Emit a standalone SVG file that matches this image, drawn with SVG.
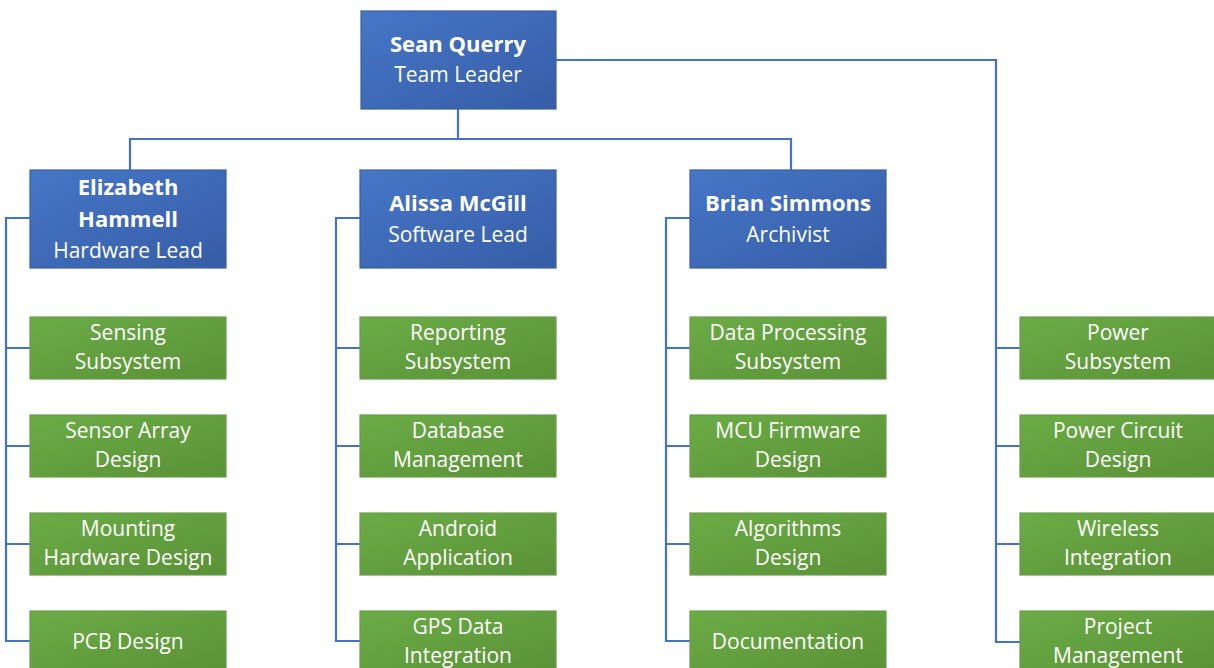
<svg xmlns="http://www.w3.org/2000/svg" width="1214" height="668" viewBox="0 0 1214 668">
<defs>
<linearGradient id="gb" x1="0" y1="0" x2="1" y2="1">
<stop offset="0" stop-color="#4676C8"/>
<stop offset="1" stop-color="#365DA6"/>
</linearGradient>
<linearGradient id="gg" x1="0" y1="0" x2="1" y2="1">
<stop offset="0" stop-color="#6BAC45"/>
<stop offset="1" stop-color="#5A9137"/>
</linearGradient>
<style>
.b{fill:url(#gb);stroke:#3C5F9E;stroke-width:1.2}
.g{fill:url(#gg);stroke:#6E9A52;stroke-width:1.2}
.t{font-family:"Open Sans","Liberation Sans",sans-serif;font-size:21px;fill:#ffffff;text-anchor:middle}
.h{font-weight:bold;font-size:22px}
.c{fill:none;stroke:#4472C4;stroke-width:2.2}
</style>
</defs>
<g id="connectors">
<path class="c" d="M458,109 V139 M130,170 V139 H791 V170"/>
<path class="c" d="M556,60 H996 V642 H1020 M996,348 H1020 M996,446 H1020 M996,544 H1020"/>
<path class="c" d="M30,218 H6 V641 H30 M6,348 H30 M6,446 H30 M6,544 H30"/>
<path class="c" d="M360,218 H336 V641 H360 M336,348 H360 M336,446 H360 M336,544 H360"/>
<path class="c" d="M690,218 H666 V641 H690 M666,348 H690 M666,446 H690 M666,544 H690"/>
</g>
<g id="sean"><rect class="b" x="361" y="11" width="195" height="98"/><text class="t h" x="458" y="52">Sean Querry</text><text class="t" x="458" y="82">Team Leader</text></g>
<g id="elizabeth"><rect class="b" x="30" y="170" width="196" height="98"/><text class="t h" x="128" y="195">Elizabeth</text><text class="t h" x="128" y="227">Hammell</text><text class="t" x="128" y="258">Hardware Lead</text></g>
<g id="alissa"><rect class="b" x="360" y="170" width="196" height="98"/><text class="t h" x="458" y="211">Alissa McGill</text><text class="t" x="458" y="242">Software Lead</text></g>
<g id="brian"><rect class="b" x="690" y="170" width="196" height="98"/><text class="t h" x="788" y="211">Brian Simmons</text><text class="t" x="788" y="242">Archivist</text></g>

<g id="sensing"><rect class="g" x="30" y="317" width="196" height="62"/><text class="t" x="128" y="340">Sensing</text><text class="t" x="128" y="369">Subsystem</text></g>
<g id="sensor-array"><rect class="g" x="30" y="415" width="196" height="62"/><text class="t" x="128" y="438">Sensor Array</text><text class="t" x="128" y="467">Design</text></g>
<g id="mounting"><rect class="g" x="30" y="513" width="196" height="62"/><text class="t" x="128" y="536">Mounting</text><text class="t" x="128" y="565">Hardware Design</text></g>
<g id="pcb"><rect class="g" x="30" y="611" width="196" height="62"/><text class="t" x="128" y="649">PCB Design</text></g>

<g id="reporting"><rect class="g" x="360" y="317" width="196" height="62"/><text class="t" x="458" y="340">Reporting</text><text class="t" x="458" y="369">Subsystem</text></g>
<g id="database"><rect class="g" x="360" y="415" width="196" height="62"/><text class="t" x="458" y="438">Database</text><text class="t" x="458" y="467">Management</text></g>
<g id="android"><rect class="g" x="360" y="513" width="196" height="62"/><text class="t" x="458" y="536">Android</text><text class="t" x="458" y="565">Application</text></g>
<g id="gps"><rect class="g" x="360" y="611" width="196" height="62"/><text class="t" x="458" y="634">GPS Data</text><text class="t" x="458" y="663">Integration</text></g>

<g id="data-processing"><rect class="g" x="690" y="317" width="196" height="62"/><text class="t" x="788" y="340">Data Processing</text><text class="t" x="788" y="369">Subsystem</text></g>
<g id="mcu"><rect class="g" x="690" y="415" width="196" height="62"/><text class="t" x="788" y="438">MCU Firmware</text><text class="t" x="788" y="467">Design</text></g>
<g id="algorithms"><rect class="g" x="690" y="513" width="196" height="62"/><text class="t" x="788" y="536">Algorithms</text><text class="t" x="788" y="565">Design</text></g>
<g id="documentation"><rect class="g" x="690" y="611" width="196" height="62"/><text class="t" x="788" y="649">Documentation</text></g>

<g id="power"><rect class="g" x="1020" y="317" width="196" height="62"/><text class="t" x="1118" y="340">Power</text><text class="t" x="1118" y="369">Subsystem</text></g>
<g id="power-circuit"><rect class="g" x="1020" y="415" width="196" height="62"/><text class="t" x="1118" y="438">Power Circuit</text><text class="t" x="1118" y="467">Design</text></g>
<g id="wireless"><rect class="g" x="1020" y="513" width="196" height="62"/><text class="t" x="1118" y="536">Wireless</text><text class="t" x="1118" y="565">Integration</text></g>
<g id="project"><rect class="g" x="1020" y="611" width="196" height="62"/><text class="t" x="1118" y="634">Project</text><text class="t" x="1118" y="663">Management</text></g>
</svg>
